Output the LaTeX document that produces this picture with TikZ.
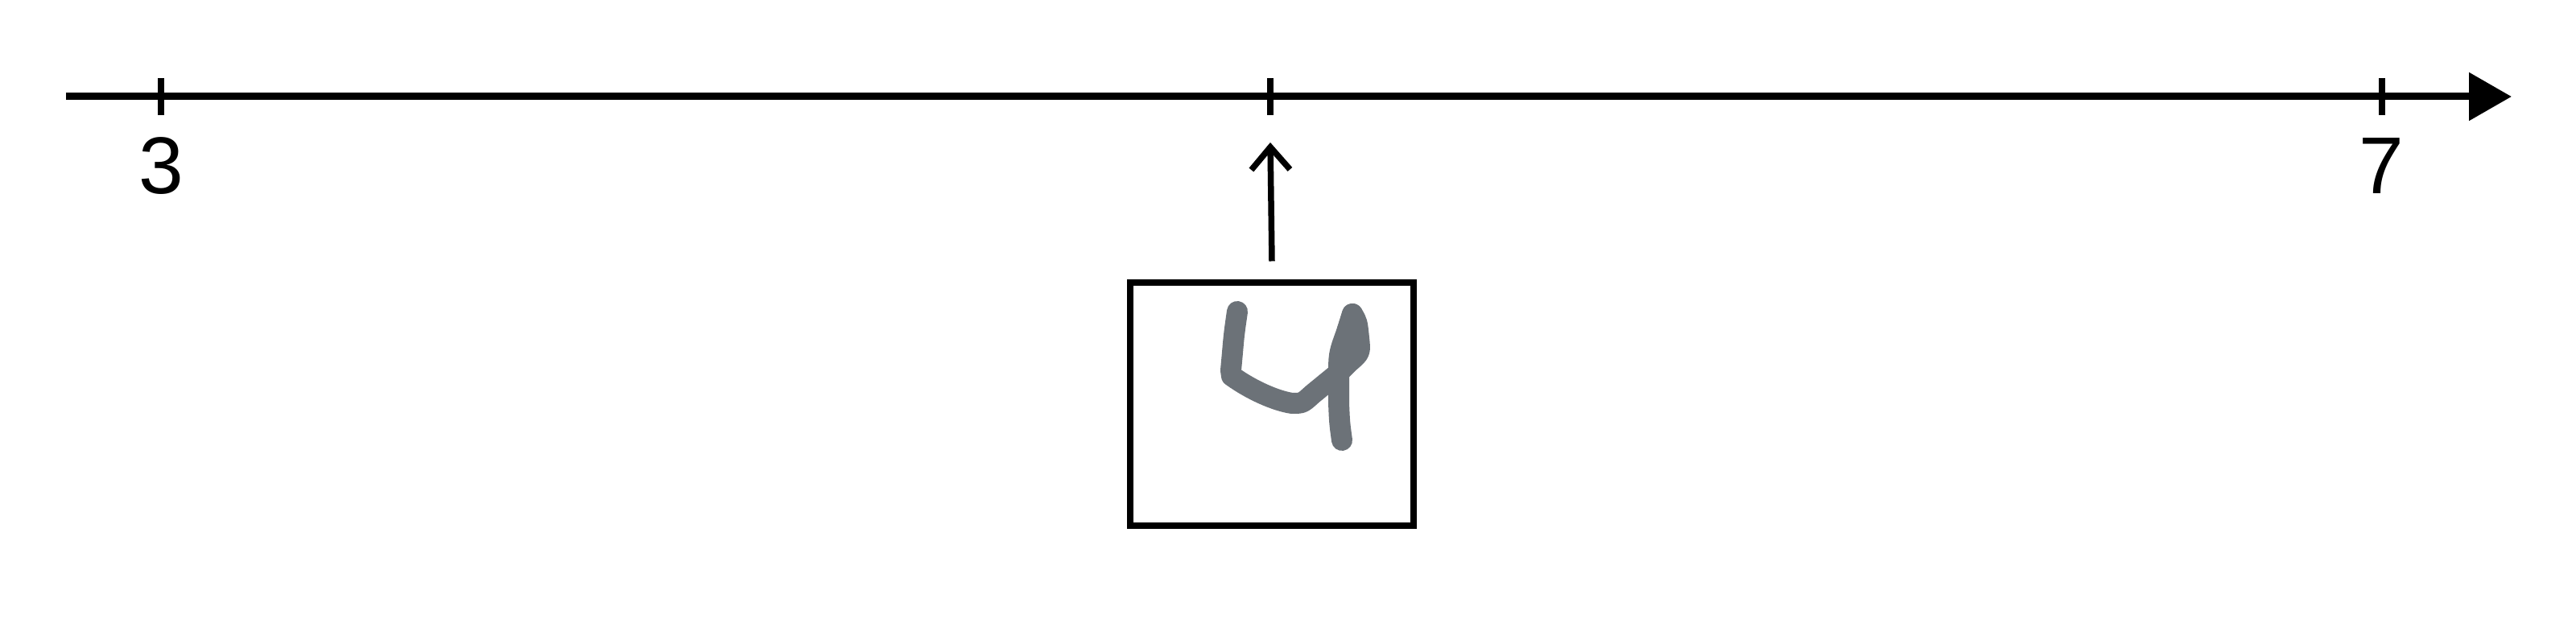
\documentclass[tikz,border=0pt]{standalone}
\usepackage{fontspec}
\setmainfont{Liberation Sans}
\usepackage{tikz}
\usetikzlibrary{arrows.meta,positioning}
\definecolor{inkgray}{HTML}{6C7278}

\begin{document}
\begin{tikzpicture}[
  font=\fontsize{28.5}{34}\selectfont,
  axis/.style={line width=0.9mm, -{Triangle[length=5.3mm, width=5.8mm]}},
  tickmark/.style={line width=0.85mm},
  lbl/.style={inner sep=0pt},
  imgbox/.style={draw, line width=0.8mm, minimum width=3.52cm, minimum height=3.02cm, inner sep=0pt},
  fl/.style={-{Straight Barb[length=2.8mm, width=4.8mm]}, line width=0.75mm},
  ink/.style={draw=inkgray, line width=2.6mm, line cap=round, line join=round},
]
\useasboundingbox (0,0) rectangle (32,8);
\coordinate (axstart) at (0.82,6.8);
\coordinate (axend)   at (31.20,6.8);
\coordinate (t3) at (2.00,6.8);
\coordinate (t4) at (15.78,6.8);
\coordinate (t7) at (29.59,6.8);
\draw[axis] (axstart) -- (axend);
\foreach \t in {t3,t4,t7}
  \draw[tickmark] ([yshift=2.3mm]\t) -- ([yshift=-2.3mm]\t);
\node[lbl] (l3) at (2.00,5.94) {3};
\node[lbl] (l7) at (29.58,5.94) {7};
\node[imgbox] (img) at (15.80,2.975) {};
\draw[fl] ([yshift=2.3mm]img.north) -- ([yshift=-5.7mm]t4);
% handwritten digit
\draw[ink] (15.37,4.13) .. controls (15.33,3.85) .. (15.31,3.62)
  -- (15.29,3.40) -- (15.30,3.33) .. controls (15.55,3.15) and (15.85,3.02) .. (16.05,2.99)
  .. controls (16.18,2.99) .. (16.30,3.10) -- (16.63,3.37);
\filldraw[ink, fill=inkgray] (16.80,4.10) .. controls (16.86,4.00) .. (16.88,3.80)
  .. controls (16.90,3.62) .. (16.76,3.50)
  -- (16.63,3.37) .. controls (16.66,3.62) .. (16.72,3.80) -- cycle;
\draw[ink] (16.80,4.10) -- (16.72,3.85) .. controls (16.63,3.60) .. (16.63,3.30)
  -- (16.63,3.00) .. controls (16.64,2.75) .. (16.67,2.53);
\end{tikzpicture}
\end{document}
